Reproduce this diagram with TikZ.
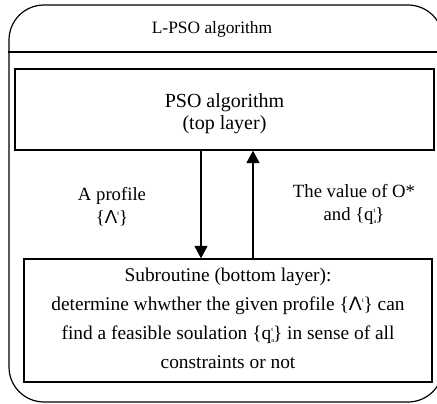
\documentclass[tikz,border=0pt]{standalone}
\usepackage{fontspec}
\setmainfont{Liberation Serif}
\newfontfamily\lsans{Liberation Sans}
\usetikzlibrary{arrows.meta}

% small raised/lowered indices set in text
\newcommand{\suptxt}[1]{\raisebox{0.85ex}{\fontsize{6.5}{7}\selectfont #1}}
\newcommand{\subsuptxt}[2]{\rlap{\raisebox{-0.35ex}{\fontsize{6.5}{7}\selectfont #1}}\raisebox{0.85ex}{\fontsize{6.5}{7}\selectfont #2}}
\newcommand{\profileset}{\{{\lsans Λ}\suptxt{t}\}}
\newcommand{\qset}{\{q\subsuptxt{a}{t}\}}

\tikzset{
  frame/.style={draw, line width=1.2pt, inner sep=0pt},
  layerbox/.style={draw, line width=1.3pt, inner sep=0pt, align=center},
  flow/.style={line width=1.3pt, -{Triangle[length=12.5pt,width=13pt]}},
  lbl/.style={align=center, inner sep=0pt, font=\fontsize{18.7}{23}\selectfont},
}

\begin{document}
\begin{tikzpicture}[x=1pt, y=-1pt]
  \useasboundingbox (0,0) rectangle (437,404);

  % outer L-PSO frame with its header strip
  \node[frame, rounded corners=35pt, minimum width=434pt, minimum height=397pt]
    (outer) at (226,203.5) {};
  \coordinate (hdr) at (0,52);
  \draw[line width=1.2pt] (outer.west |- hdr) -- (outer.east |- hdr);
  \node[inner sep=0pt, font=\fontsize{17.4}{20}\selectfont, anchor=base] (title) at (212,34) {L-PSO algorithm};

  % top layer (multi-line texts are anchored at the baseline of their last line)
  \node[layerbox, minimum width=419pt, minimum height=81pt] (top) at (224.5,109.5) {};
  \node[align=center, inner sep=0pt, font=\fontsize{20}{23}\selectfont, anchor=base] (toptxt) at (224.5,130)
    {PSO algorithm\\(top layer)};

  % bottom layer
  \node[layerbox, minimum width=408pt, minimum height=123pt] (bot) at (228,320.5) {};
  \node[align=center, inner sep=0pt, font=\fontsize{19.4}{29}\selectfont, anchor=base] (bottxt) at (228,368)
    {Subroutine (bottom layer):\\
     determine whwther the given profile \profileset{} can\\
     find a feasible soulation \qset{} in sense of all\\
     constraints or not};

  % exchange between the layers
  \coordinate (dn) at (201,0);
  \coordinate (up) at (253,0);
  \draw[flow] (top.south -| dn) -- (bot.north -| dn);
  \draw[flow] (bot.north -| up) -- (top.south -| up);

  \node[lbl, anchor=base] (lprof) at (112,223) {A profile\\\profileset};
  \node[lbl, anchor=base] (lval) at (354,220) {The value of O*\\and \qset};
\end{tikzpicture}
\end{document}
